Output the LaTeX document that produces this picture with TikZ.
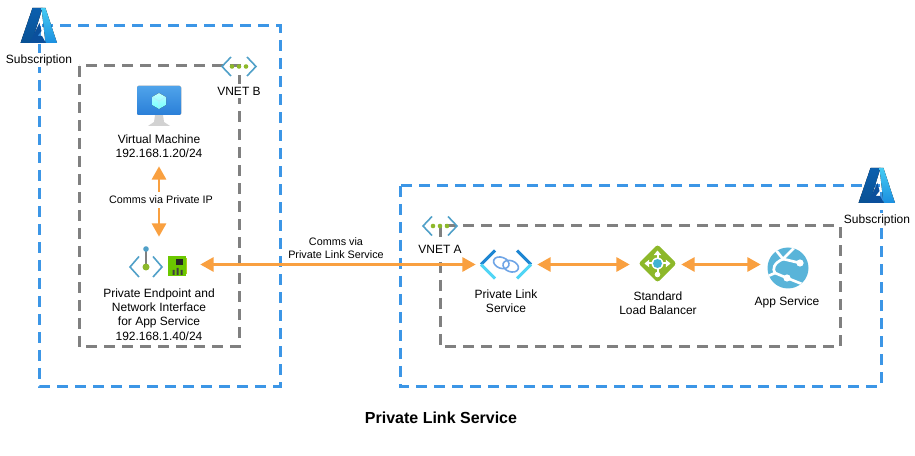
\documentclass[tikz,border=0pt]{standalone}
\usepackage{fontspec}
\setmainfont{Liberation Sans}
\usetikzlibrary{arrows.meta}
\definecolor{subblue}{HTML}{3C96E6}
\definecolor{vnetgray}{HTML}{808080}
\definecolor{commsorange}{HTML}{F9A040}
\definecolor{iconblue}{HTML}{50A0C8}
\definecolor{icongreen}{HTML}{8DB82A}
\definecolor{azuredark}{HTML}{0B5FAE}
\definecolor{azuremid}{HTML}{0A4F9C}
\definecolor{azurelight}{HTML}{45CBF3}
\definecolor{azurelow}{HTML}{1B8FE0}
\definecolor{vmtop}{HTML}{4FA3EA}
\definecolor{vmlow}{HTML}{2A7FD8}
\definecolor{sitecolor}{HTML}{59B4D9}
\definecolor{linkdark}{HTML}{1E86D2}
\definecolor{linklight}{HTML}{50D5F5}
\definecolor{linkring}{HTML}{6FA5E6}
\tikzset{
    subbox/.style = {draw = subblue, line width = 2.25pt, dash pattern = on 8pt off 5.5pt},
    vnetbox/.style = {draw = vnetgray, line width = 2.25pt, dash pattern = on 8pt off 5.5pt},
    comms/.style = {draw = commsorange, line width = 2.2pt, {Triangle[width=10.5pt,length=10pt]}-{Triangle[width=10.5pt,length=10pt]}},
    textlabel/.style = {align = center, inner sep = 0pt, font = \fontsize{9}{10.8}\selectfont},
    smalllabel/.style = {align = center, inner sep = 0pt, font = \fontsize{8.1}{9.8}\selectfont},
    iconspot/.style = {inner sep = 0pt, minimum width = #1},
    whitetip/.style = {white, line width = 1.5pt, -{Triangle[width=5.5pt,length=3.5pt]}},
    azure/.pic = {
        \fill [top color = azuredark, bottom color = azuredark!85!black] (-6,-18) -- (4,-18) -- (-7,17) -- (-18,17) -- cycle;
        \fill [top color = azurelight, bottom color = azurelow] (3,-18) -- (7,-18) -- (18.5,17) -- (7,17) -- cycle;
        \fill [azuremid] (1,-3) -- (-7,13) -- (-9,17) -- (7.5,17) -- (3.5,10) -- (-1,10) -- (3,5) -- cycle;
    },
    vnet/.pic = {
        \draw [iconblue, line width = 1.2pt] (-8,-9.5) -- (-17,0) -- (-8,9.5);
        \draw [iconblue, line width = 1.2pt] (8,-9.5) -- (17,0) -- (8,9.5);
        \foreach \dotx in {-7,0,7} \fill [icongreen] (\dotx,0) circle (2.3);
    },
    vm/.pic = {
        \fill [gray!35] (-4,9) -- (4,9) -- (5,16) -- (11,20) -- (-11,20) -- (-5,16) -- cycle;
        \fill [top color = vmtop, bottom color = vmlow, rounded corners = 1pt] (-22,-20) rectangle (22,9);
        \fill [top color = cyan!25, bottom color = cyan!55] (0,-13) -- (7,-9) -- (7,-1) -- (0,3) -- (-7,-1) -- (-7,-9) -- cycle;
        \draw [white!70!cyan, line width = 0.4pt] (-7,-9) -- (0,-5) -- (7,-9) (0,-5) -- (0,3);
    },
    endpoint/.pic = {
        \draw [iconblue, line width = 1.2pt] (-7,-7.5) -- (-16,3) -- (-7,13);
        \draw [iconblue, line width = 1.2pt] (7,-7.5) -- (16,3) -- (7,13);
        \draw [gray, line width = 1.2pt] (0,-15) -- (0,3);
        \fill [iconblue] (0,-15) circle (2.8);
        \fill [icongreen] (0,3) circle (3.5);
    },
    nic/.pic = {
        \fill [green!45!olive!80!yellow] (-9.5,-10) rectangle (8,10);
        \fill [icongreen!70!yellow] (8,-8) rectangle (9.5,8);
        \fill [black!85] (-2,-7) rectangle (5,-1);
        \fill [black!75] (-5,4) rectangle (-3,9) (-1,2) rectangle (1,9) (3,4) rectangle (5,9);
    },
    linkservice/.pic = {
        \draw [linkdark, line width = 2.3pt] (-11,-14) -- (-25,0);
        \draw [linklight, line width = 2.3pt] (-25,0) -- (-11,14);
        \draw [linkdark, line width = 2.3pt] (11,-14) -- (25,0);
        \draw [linklight, line width = 2.3pt] (25,0) -- (11,14);
        \draw [linkring, line width = 1.2pt, rotate = -20] (-5,0) ellipse (8 and 5.5);
        \draw [linkring, line width = 1.2pt, rotate = -20] (5,0) ellipse (8 and 5.5);
    },
    balancer/.pic = {
        \fill [icongreen, rounded corners = 2pt] (0,-19) -- (19,0) -- (0,19) -- (-19,0) -- cycle;
        \draw [whitetip] (0,0) -- (-13,0);
        \draw [whitetip] (0,0) -- (13,0);
        \draw [whitetip] (0,0) -- (0,-13);
        \draw [white, line width = 1.5pt] (0,0) -- (0,11);
        \fill [white] (0,0) circle (6);
        \fill [iconblue!80!cyan] (0,0) circle (4.5);
        \fill [white] (0,11) circle (2.8);
    },
    appservice/.pic = {
        \fill [sitecolor] (0,0) circle (20.5);
        \begin{scope}
            \clip (0,0) circle (20.5);
            \draw [white, line width = 2pt] (-13,-19) -- (-5,-9) -- (7,-21);
            \draw [white, line width = 2pt] (-5,-9) -- (12,-5);
            \draw [white, line width = 2pt] (-5,-9) .. controls (-14,-5) and (-16,1) .. (-13,5);
            \draw [white, line width = 2pt] (-22,9) -- (-13,5) -- (-1,10) -- (14,16);
        \end{scope}
        \fill [white] (12,-5) circle (3.6);
        \fill [white] (-1,10) circle (3.6);
    },
}
\begin{document}
\begin{tikzpicture}[x = 0.75pt, y = -0.75pt]
    \useasboundingbox (0,0) rectangle (915,456);

    % boxes
    \draw [subbox] (39,26) rectangle (280,386);
    \draw [subbox] (400,186) rectangle (881,386);
    \draw [vnetbox] (79,66) rectangle (239,347);
    \draw [vnetbox] (440,226) rectangle (840,347);

    % icons
    \pic at (38.5,26) {azure};
    \pic at (876.5,186) {azure};
    \pic at (239,66.5) {vnet};
    \pic at (440,226) {vnet};
    \pic at (159,106) {vm};
    \pic at (146,264) {endpoint};
    \pic at (177.5,266) {nic};
    \pic at (506,264.5) {linkservice};
    \pic at (657.5,263.5) {balancer};
    \pic at (788,268) {appservice};

    % spots the connectors end on
    \node (nicSpot) [iconspot = 33.75pt] at (177.5,264.5) {};
    \node (linkSpot) [iconspot = 45.75pt] at (506.5,264.5) {};
    \node (lbSpot) [iconspot = 38.25pt] at (655.5,264.5) {};
    \node (appSpot) [iconspot = 39pt] at (787,264.5) {};
    \node (peSpot) [iconspot = 0pt, minimum height = 42pt] at (159,265) {};

    % labels
    \node (subLeft) [textlabel, fill = white, inner sep = 1pt] at (39,60) {Subscription};
    \node (subRight) [textlabel, fill = white, inner sep = 1pt] at (877,220) {Subscription};
    \node (vnetB) [textlabel, fill = white, inner ysep = 2pt] at (239,91) {VNET B};
    \node (vnetA) [textlabel, fill = white, inner ysep = 2pt] at (440,249) {VNET A};
    \node (vmLabel) [textlabel, minimum height = 30pt] at (159,146) {Virtual Machine\\192.168.1.20/24};
    \node (peLabel) [textlabel] at (159,314.5) {Private Endpoint and\\Network Interface\\for App Service\\192.168.1.40/24};
    \node (linkLabel) [textlabel] at (506,301) {Private Link\\Service};
    \node (lbLabel) [textlabel] at (658,303) {Standard\\Load Balancer};
    \node (appLabel) [textlabel] at (787,302) {App Service};

    % connectors
    \draw [comms] (vmLabel) -- (peSpot);
    \draw [comms] (nicSpot) -- (linkSpot);
    \draw [comms] (linkSpot) -- (lbSpot);
    \draw [comms] (lbSpot) -- (appSpot);

    \node (commsIp) [smalllabel, fill = white, inner ysep = 3pt] at (161,200) {Comms via Private IP};
    \node (commsLink) [smalllabel] at (336,248) {Comms via\\Private Link Service};
    \node (title) [inner sep = 0pt, font = \fontsize{12}{14}\selectfont\bfseries] at (441,418) {Private Link Service};
\end{tikzpicture}
\end{document}
